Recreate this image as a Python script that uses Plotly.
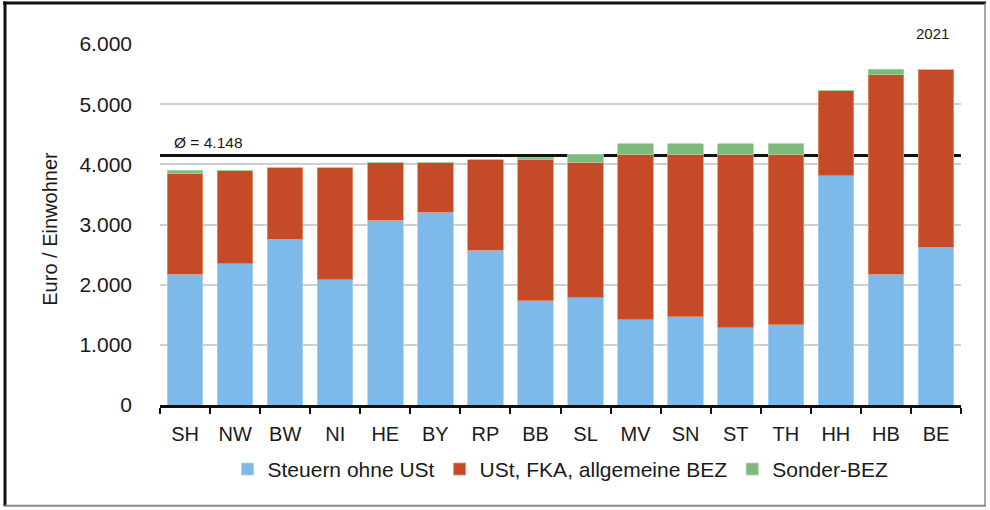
import plotly.graph_objects as go

categories = ["SH", "NW", "BW", "NI", "HE", "BY", "RP", "BB", "SL", "MV", "SN", "ST", "TH", "HH", "HB", "BE"]
steuern = [2177, 2348, 2758, 2083, 3068, 3200, 2576, 1734, 1779, 1419, 1464, 1286, 1331, 3812, 2177, 2620]
ust_fka_bez = [1677, 1549, 1184, 1859, 968, 836, 1499, 2341, 2257, 2750, 2705, 2883, 2838, 1411, 3313, 2960]
sonder_bez = [44, 0, 0, 0, 0, 0, 0, 44, 133, 171, 171, 171, 171, 0, 90, 0]
series_names = ["Steuern ohne USt", "USt, FKA, allgemeine BEZ", "Sonder-BEZ"]
avg_value = 4148
avg_label = "Ø = 4.148"
year_label = "2021"
y_title = "Euro / Einwohner"
y_ticks = [0, 1000, 2000, 3000, 4000, 5000, 6000]

colors = ["#7DBAEA", "#C54B28", "#7EBA7E"]
edge = ["#A9D2F2", "#E8906A", "#A6D3A6"]

W, H = 990, 510
PL, PR, PT, PB = 160, 961, 44, 405.5  # plot area in px


def xp(sx):
    return (sx - PL) / (PR - PL)


def yp(sy):
    return (PB - sy) / (PB - PT)


fig = go.Figure()
for name, vals, c, e in zip(series_names, [steuern, ust_fka_bez, sonder_bez], colors, edge):
    fig.add_trace(go.Bar(
        x=categories, y=vals, name=name,
        marker=dict(color=c, line=dict(color=e, width=0.8)),
    ))

FONT = "Liberation Sans, Arial, Helvetica, sans-serif"

fig.update_layout(
    width=W, height=H,
    barmode="stack", bargap=0.29,
    plot_bgcolor="white", paper_bgcolor="white",
    separators=",.",
    margin=dict(l=PL, r=W - PR, t=PT, b=H - PB),
    font=dict(family=FONT, color="#1a1a1a", size=20),
    showlegend=True,
    legend=dict(orientation="h", x=0.5, xanchor="center", y=yp(470), yanchor="middle",
                font=dict(size=21), traceorder="normal", itemwidth=30),
    xaxis=dict(
        type="category", range=[-0.5, 15.5],
        showline=True, linecolor="#111111", linewidth=2.5,
        ticks="outside", tickson="boundaries", ticklen=6, tickwidth=2, tickcolor="#111111",
        tickfont=dict(size=20), ticklabelstandoff=9,
        showgrid=False, fixedrange=True,
    ),
    yaxis=dict(
        range=[0, 6000], tickvals=y_ticks, tickformat=",d",
        showgrid=True, gridcolor="#cfcfcf", gridwidth=1.5,
        showline=False, ticks="", zeroline=False,
        tickfont=dict(size=21), ticklabelstandoff=27,
    ),
)

# average line (behind bars)
fig.add_shape(type="line", xref="paper", yref="y", x0=0, x1=1, y0=avg_value, y1=avg_value,
              line=dict(color="#111111", width=3), layer="below")

fig.add_annotation(text=avg_label, xref="paper", yref="paper", x=xp(172), y=yp(143),
                   xanchor="left", yanchor="middle", showarrow=False, font=dict(size=15.5))
fig.add_annotation(text=year_label, xref="paper", yref="paper", x=xp(951), y=yp(33),
                   xanchor="right", yanchor="middle", showarrow=False, font=dict(size=15))
fig.add_annotation(text=y_title, xref="paper", yref="paper", x=xp(50), y=yp(229),
                   xanchor="center", yanchor="middle", textangle=-90, showarrow=False,
                   font=dict(size=20))

# window frame
fig.add_shape(type="line", xref="paper", yref="paper", x0=xp(3), x1=xp(986), y0=yp(3), y1=yp(3),
              line=dict(color="#111111", width=3))
fig.add_shape(type="line", xref="paper", yref="paper", x0=xp(5), x1=xp(5), y0=yp(1.5), y1=yp(507),
              line=dict(color="#111111", width=3))
fig.add_shape(type="line", xref="paper", yref="paper", x0=xp(985), x1=xp(985), y0=yp(3), y1=yp(507),
              line=dict(color="#8a8a8a", width=1.5))
fig.add_shape(type="line", xref="paper", yref="paper", x0=xp(5), x1=xp(986), y0=yp(506.5), y1=yp(506.5),
              line=dict(color="#8a8a8a", width=2))

fig.write_html("out.html", config={"displayModeBar": False},
               post_script="document.body.style.margin='0';document.body.style.overflow='hidden';")
